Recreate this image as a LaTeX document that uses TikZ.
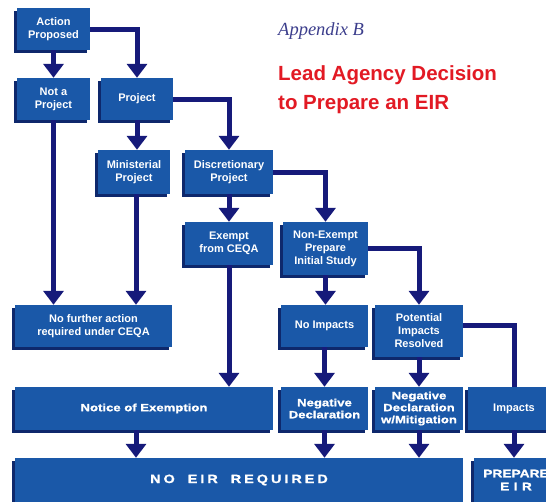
\documentclass[tikz,border=0pt]{standalone}
\usepackage{fontspec}
\setmainfont{Liberation Sans}
\newfontfamily\widefont{Liberation Sans}[FakeStretch=1.25, FakeBold=1.2]
\newfontfamily\spacedfont{Liberation Sans}[FakeStretch=1.2, FakeBold=1.2, LetterSpace=25]
\newfontfamily\titleserif{Liberation Serif}
\usetikzlibrary{shapes,arrows.meta,shadows,positioning}
\definecolor{boxblue}{RGB}{26,88,168}
\definecolor{boxshade}{RGB}{14,40,108}
\definecolor{flowblue}{RGB}{22,26,122}
\definecolor{apptext}{RGB}{60,62,140}
\definecolor{titlered}{RGB}{226,26,36}
\tikzstyle{block} = [fill=boxblue, rectangle, text=white, minimum height=42pt, minimum width=73pt, inner sep=0pt, align=center, drop shadow={shadow xshift=-3pt, shadow yshift=-3pt, fill=boxshade, opacity=1}]
\tikzstyle{wideblock} = [block, font={\widefont\fontsize{10.5}{12}\selectfont\bfseries}]
\tikzstyle{spacedblock} = [block, font={\spacedfont\fontsize{12}{13}\selectfont\bfseries}]
\tikzstyle{flow} = [draw=flowblue, line width=5pt, ->]
\tikzstyle{feed} = [draw=flowblue, line width=5pt]

\begin{document}
\begin{tikzpicture}[auto, node distance=70pt, >={Triangle[width=20pt,length=14pt]}]
    \tikzset{font={\fontsize{11}{13}\selectfont\bfseries}}
    \useasboundingbox (0,0) rectangle (546pt,-501pt);
    \clip (0,0) rectangle (546pt,-501pt);

    % Heading
    \node [anchor=base west, inner sep=0pt, text=apptext, font={\titleserif\itshape\fontsize{18.5}{22}\selectfont}] (appx) at (278pt,-35pt) {Appendix B};
    \node [anchor=base west, inner sep=0pt, text=titlered, font={\fontsize{20.5}{24}\selectfont\bfseries}] (head) at (278pt,-80pt) {Lead Agency Decision};
    \node [anchor=base west, inner sep=0pt, text=titlered, font={\fontsize{20.5}{24}\selectfont\bfseries}] (headb) at (278pt,-109pt) {to Prepare an EIR};

    \node [block] (ap) at (53.5pt,-29pt) {Action\\ Proposed};
    \node [block, below of=ap] (notproj) {Not a\\ Project};
    \node [block, right of=notproj, node distance=83.5pt, minimum width=72pt] (proj) {Project};
    \node [block, below of=proj, node distance=73pt, xshift=-3pt, minimum width=72pt, minimum height=44pt] (minist) {Ministerial\\ Project};
    \node [block, right of=minist, node distance=95pt, minimum width=88pt, minimum height=44pt] (discr) {Discretionary\\ Project};
    \node [block, below of=discr, node distance=71.5pt, minimum width=88pt, minimum height=43pt] (exempt) {Exempt\\ from CEQA};
    \node [block, right of=exempt, node distance=96.5pt, yshift=-5pt, minimum width=85pt, minimum height=53pt] (nonex) {Non-Exempt\\ Prepare\\ Initial Study};
    \node [block, below of=nonex, node distance=77.5pt, xshift=-1pt, minimum width=87pt] (noimp) {No Impacts};
    \node [block, right of=noimp, node distance=94.5pt, yshift=-5pt, minimum width=88pt, minimum height=52pt] (potimp) {Potential\\ Impacts\\ Resolved};
    \node [block, left of=noimp, node distance=231pt, minimum width=157pt] (nofurther) {No further action\\ required under CEQA};

    % Outcome row
    \node [wideblock, below of=noimp, node distance=82.5pt, minimum width=87pt, minimum height=43pt] (negdecl) {Negative\\ Declaration};
    \node [wideblock, right of=negdecl, node distance=94.5pt, minimum width=88pt, minimum height=43pt] (negmit) {Negative\\ Declaration\\ w/Mitigation};
    \node [block, right of=negmit, node distance=95pt, minimum width=92pt, minimum height=43pt] (impacts) {Impacts};
    \node [wideblock, left of=negdecl, node distance=180.5pt, minimum width=258pt, minimum height=43pt] (notice) {Notice of Exemption};
    \node [spacedblock, below of=notice, node distance=71.5pt, xshift=95pt, minimum width=448pt, minimum height=44pt] (noeir) {NO\hspace{6pt} EIR\hspace{6pt} REQUIRED};
    \node [wideblock, right of=noeir, node distance=277pt, minimum width=84pt, minimum height=44pt, font={\widefont\fontsize{11}{13}\selectfont\bfseries}] (prepeir) {PREPARE\\ {\addfontfeature{LetterSpace=40}EIR}};

    \draw [flow] (ap) -- (notproj);
    \draw [flow] (ap.east) -| (proj.north);
    \draw [flow] (proj.south) -- (proj.south |- minist.north);
    \draw [flow] (proj.east) -| (discr.north);
    \draw [flow] (notproj.south) -- (notproj.south |- nofurther.north);
    \draw [flow] ([xshift=2pt]minist.south) -- ([xshift=2pt]minist.south |- nofurther.north);
    \draw [flow] (discr) -- (exempt);
    \draw [flow] (discr.east) -| (nonex.north);
    \draw [flow] (exempt.south) -- (exempt.south |- notice.north);
    \draw [flow] (nonex.south) -- (nonex.south |- noimp.north);
    \draw [flow] (nonex.east) -| (potimp.north);
    \draw [flow] (noimp) -- (negdecl);
    \draw [flow] (potimp) -- (negmit);
    \draw [feed] ([yshift=6pt]potimp.east) -| (impacts.north);

    % Into the bottom bars
    \draw [flow] ([xshift=-8pt]notice.south) -- ([xshift=-8pt]notice.south |- noeir.north);
    \draw [flow] (negdecl.south) -- (negdecl.south |- noeir.north);
    \draw [flow] (negmit.south) -- (negmit.south |- noeir.north);
    \draw [flow] (impacts.south) -- (impacts.south |- prepeir.north);
\end{tikzpicture}
\end{document}
